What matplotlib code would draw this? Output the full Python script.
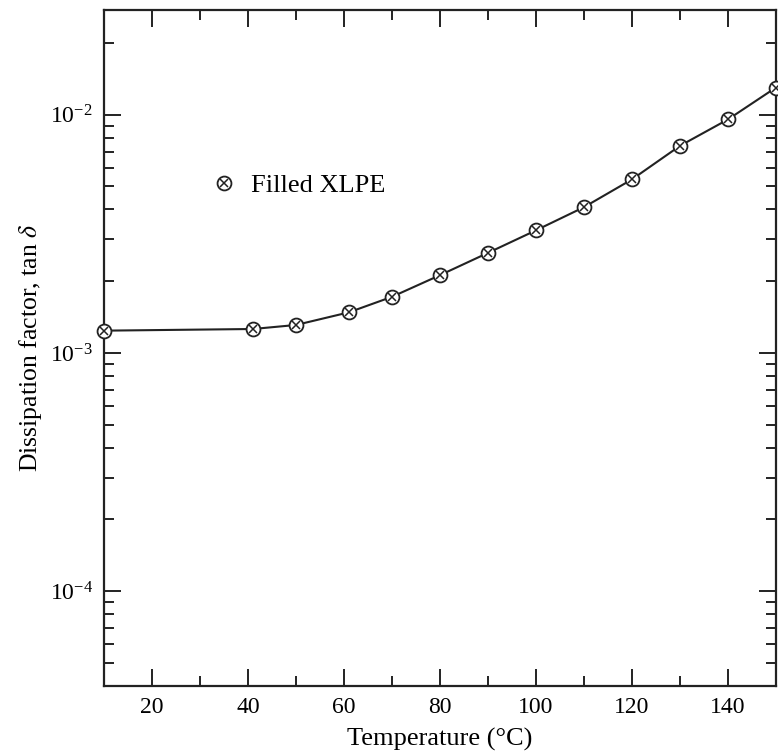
import numpy as np
import matplotlib
matplotlib.use('Agg')
import matplotlib.pyplot as plt
from matplotlib.ticker import MultipleLocator, LogLocator
from matplotlib.lines import Line2D

plt.rcParams['font.family'] = ['Liberation Serif', 'DejaVu Serif']
plt.rcParams['mathtext.fontset'] = 'stix'

# ── Datos ────────────────────────────────────────────────────────────────────
temperature = [10, 41, 50, 61, 70, 80, 90, 100, 110, 120, 130, 140, 150]
tan_delta = [1.24e-3, 1.26e-3, 1.31e-3, 1.48e-3, 1.72e-3, 2.12e-3, 2.63e-3,
             3.27e-3, 4.09e-3, 5.35e-3, 7.40e-3, 9.55e-3, 1.30e-2]
series_label = 'Filled XLPE'
x_ticks = [20, 40, 60, 80, 100, 120, 140]

# ── Figura ───────────────────────────────────────────────────────────────────
fig = plt.figure(figsize=(7.78, 7.56), dpi=100)
ax = fig.add_axes([0.1337, 0.0926, 0.8637, 0.8942])

ink = '#222222'
ax.plot(temperature, tan_delta, color=ink, lw=1.5, zorder=2, clip_on=False)
ax.plot(temperature, tan_delta, ls='none', marker='o', ms=10, mfc='white',
        mec=ink, mew=1.3, zorder=3, clip_on=False)
ax.plot(temperature, tan_delta, ls='none', marker='x', ms=5.5,
        mec=ink, mew=1.1, zorder=4, clip_on=False)

ax.set_yscale('log')
ax.set_xlim(10, 150)
ax.set_ylim(4e-5, 2.75e-2)

ax.set_xticks(x_ticks)
ax.xaxis.set_minor_locator(MultipleLocator(10))
ax.yaxis.set_major_locator(LogLocator(base=10))
ax.yaxis.set_minor_locator(LogLocator(base=10, subs=np.arange(2, 10)))

ax.tick_params(which='both', direction='in', top=True, right=True,
               labelsize=17, color=ink, width=1.4)
ax.tick_params(which='major', length=12, pad=8)
ax.tick_params(which='minor', length=7)
for s in ax.spines.values():
    s.set_linewidth(1.6)
    s.set_color(ink)

ax.set_xlabel('Temperature (°C)', fontsize=19, labelpad=7)
ax.set_ylabel(r'Dissipation factor, tan $\delta$', fontsize=18.5, labelpad=4)

handle = (Line2D([], [], ls='none', marker='o', ms=10, mfc='white',
                 mec=ink, mew=1.3),
          Line2D([], [], ls='none', marker='x', ms=5.5, mec=ink, mew=1.1))
ax.legend([handle], [series_label], loc='center left',
          bbox_to_anchor=(0.125, 0.741), frameon=False, fontsize=19,
          handlelength=0.9, handletextpad=0.6)

fig.savefig('out.png', dpi=100)
